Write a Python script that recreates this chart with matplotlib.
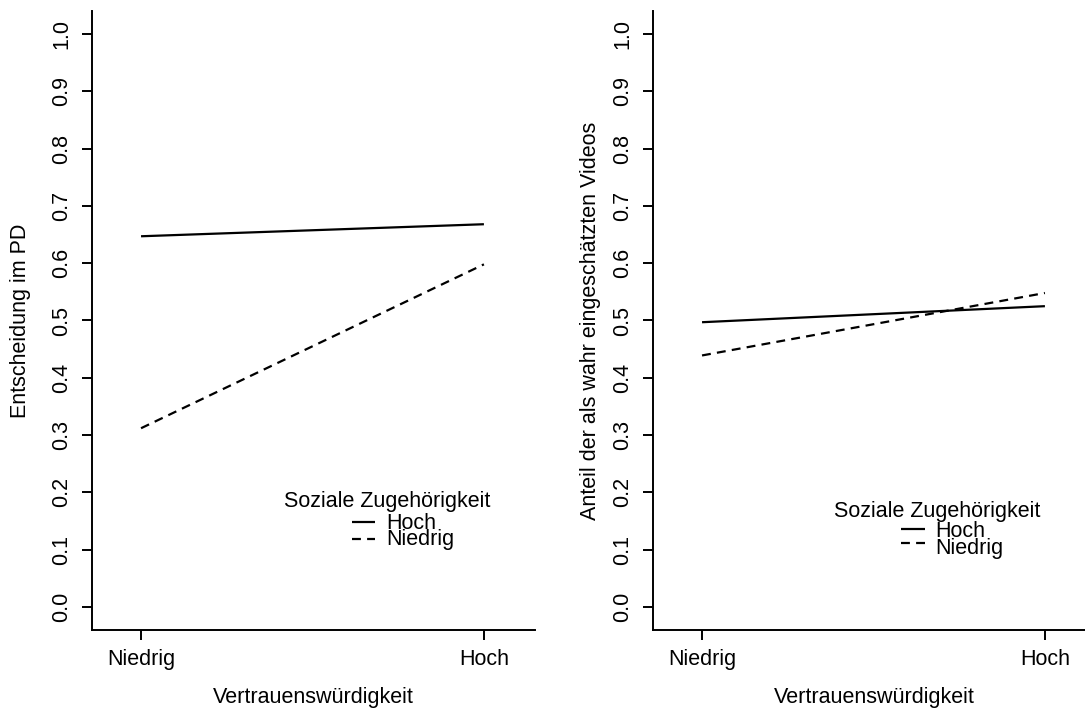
import matplotlib
matplotlib.use('Agg')
import matplotlib.pyplot as plt

plt.rcParams['font.family'] = ['Liberation Sans', 'DejaVu Sans']

# Data
levels = ['Niedrig', 'Hoch']
x_pos = [1, 2]
left_hoch = [0.647, 0.668]
left_niedrig = [0.312, 0.598]
right_hoch = [0.497, 0.525]
right_niedrig = [0.439, 0.548]
yticks = [0.0, 0.1, 0.2, 0.3, 0.4, 0.5, 0.6, 0.7, 0.8, 0.9, 1.0]
ytick_labels = ['0.0', '0.1', '0.2', '0.3', '0.4', '0.5', '0.6', '0.7', '0.8', '0.9', '1.0']
legend_title = 'Soziale Zugehörigkeit'
legend_labels = ['Hoch', 'Niedrig']
xlabel = 'Vertrauenswürdigkeit'
ylabel_left = 'Entscheidung im PD'
ylabel_right = 'Anteil der als wahr eingeschätzten Videos'

FS = 15.5
LW = 1.6
DASH = (4.0, 2.8)

W, H = 1085, 709
fig = plt.figure(figsize=(W / 100, H / 100), dpi=100)
ax1 = fig.add_axes([92 / W, 1 - 630 / H, 443 / W, 619 / H])
ax2 = fig.add_axes([653 / W, 1 - 630 / H, 443 / W, 619 / H])


def style(ax, ylabel, labelpad):
    ax.set_xlim(0.857, 2.149)
    ax.set_ylim(-0.0401, 1.0401)
    for s in ['top', 'right']:
        ax.spines[s].set_visible(False)
    for s in ['left', 'bottom']:
        ax.spines[s].set_linewidth(1.4)
    ax.set_xticks(x_pos)
    ax.set_xticklabels(levels)
    ax.set_yticks(yticks)
    ax.set_yticklabels(ytick_labels, rotation=90, va='center')
    ax.tick_params(direction='out', length=7.5, width=1.4, labelsize=FS)
    ax.tick_params(axis='x', pad=6.5)
    ax.tick_params(axis='y', pad=6.5)
    ax.set_xlabel(xlabel, fontsize=FS, labelpad=12)
    ax.set_ylabel(ylabel, fontsize=FS, labelpad=labelpad)


def legend(ax, tx, tb, lx0, lx1, ly_solid, ly_dash, txt_x, b_hoch, b_nied):
    ax.text(tx, tb, legend_title, fontsize=FS, va='baseline', ha='left', clip_on=False)
    ax.plot([lx0, lx1], [ly_solid, ly_solid], color='black', lw=LW, solid_capstyle='butt', clip_on=False)
    ax.plot([lx0, lx1], [ly_dash, ly_dash], color='black', lw=LW, dashes=DASH, dash_capstyle='butt', clip_on=False)
    ax.text(txt_x, b_hoch, legend_labels[0], fontsize=FS, va='baseline', ha='left', clip_on=False)
    ax.text(txt_x, b_nied, legend_labels[1], fontsize=FS, va='baseline', ha='left', clip_on=False)


# Left panel
ax1.plot(x_pos, left_hoch, color='black', lw=LW, solid_capstyle='butt')
ax1.plot(x_pos, left_niedrig, color='black', lw=LW, dashes=DASH, dash_capstyle='butt')
style(ax1, ylabel_left, 15)
legend(ax1, 1.417, 0.175, 1.614, 1.682, 0.149, 0.118, 1.714, 0.1356, 0.108)

# Right panel
ax2.plot(x_pos, right_hoch, color='black', lw=LW, solid_capstyle='butt')
ax2.plot(x_pos, right_niedrig, color='black', lw=LW, dashes=DASH, dash_capstyle='butt')
style(ax2, ylabel_right, 8)
legend(ax2, 1.386, 0.1565, 1.581, 1.649, 0.1356, 0.111, 1.681, 0.1227, 0.0925)

fig.savefig('out.png', dpi=100)
